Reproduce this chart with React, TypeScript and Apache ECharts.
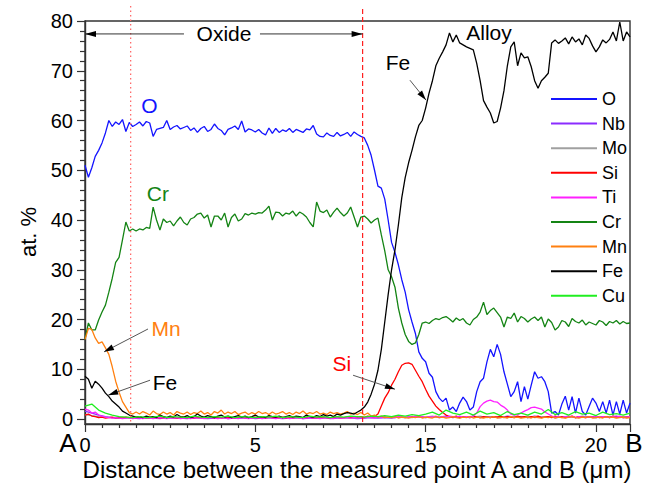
import React, { useEffect, useRef } from "react";
import * as echarts from "echarts";

// sampling step along the A-B line (µm in the plotted scale)
const FINE_STEP = 0.1;
const COARSE_STEP = 0.2;

const elements = ["O", "Nb", "Mo", "Si", "Ti", "Cr", "Mn", "Fe", "Cu"];
const elementColors: Record<string, string> = {
  O: "#1414ff",
  Nb: "#8b2cff",
  Mo: "#a0a0a0",
  Si: "#ff0000",
  Ti: "#ff20ff",
  Cr: "#148414",
  Mn: "#ff8010",
  Fe: "#000000",
  Cu: "#20ee20",
};

const oValues = [
  51, 48.6, 50.5, 52.8, 54, 55.5, 57.5, 60, 58.8, 59.7,
  59.2, 60.2, 57.8, 59.6, 58.8, 59.2, 59.7, 58.9, 59.8, 59.5,
  56.8, 58.2, 58.4, 58.6, 60, 58.2, 58.7, 59, 58.3, 58.6,
  58.9, 58, 58.5, 57.6, 58.4, 58.8, 57.8, 58.2, 59.3, 58.4,
  58, 57.1, 58.2, 58.5, 58.9, 58.2, 59.9, 57.7, 58.3, 58.1,
  57.7, 58.2, 57.5, 57.1, 58.5, 57.4, 58.4, 57.6, 58.1, 57.8,
  58.4, 57.6, 58.2, 57.9, 57.6, 58.3, 58.1, 59, 57.3, 56.8,
  56.7, 57.5, 57, 56.8, 57.6, 56.9, 57.2, 57.6, 56.8, 57.7,
  57.2, 56.8, 56.5, 55, 53, 50, 46.8, 46.4, 44.2, 40,
  35.5, 33.5, 31, 28, 25.5, 22, 19.5, 17.2, 13.5, 12.2,
  11.5, 9.2, 8.4, 5.5, 4.2, 3.5, 4.2, 1.8, 2.4, 1.5,
  3.2, 4.4, 3.5, 1.8, 2.4, 5.5, 7.5, 8.2, 11.5, 14,
  12.5, 15, 13, 9.5, 7, 4.5, 5.5, 7.5, 3.5, 6.5,
  4, 6.8, 9.5, 8.2, 8.5, 7.5, 5.5, 1.2, 1.5, 0.8,
  3, 4.6, 1.8, 4.5, 1.2, 4.2, 1.5, 0.8, 2.5, 4.2,
  3.2, 1.5, 3.5, 1.2, 3.8, 0.8, 3.5, 1, 3.8, 1.2,
  3.2,
];

const crValues = [
  16, 19.3, 17.9, 17.9, 19.9, 21.5, 22.9, 25.5, 28.3, 31.5,
  32.5, 36, 39.6, 37.8, 38.2, 37.8, 38.2, 38, 38.5, 38.3,
  42.6, 40, 38, 40.2, 39.5, 39.8, 38.8, 39.8, 40.6, 39.5,
  39, 40.2, 40.5, 41.2, 41.4, 40.4, 41, 38.6, 40.8, 40.8,
  40, 41.4, 38.6, 40.5, 41.2, 39.8, 40.2, 41.3, 41, 41.4,
  41.2, 41.5, 41.4, 42, 42.8, 40, 41.6, 41.5, 40.8, 41.4,
  41.2, 41.8, 40.8, 41.6, 41.2, 40.6, 39.5, 38.6, 43.6, 41.8,
  41.5, 42, 40.6, 41.6, 42.4, 41.5, 40.8, 41.4, 42.6, 40.6,
  38.6, 40.6, 40.8, 40.2, 39.4, 40, 40.4, 37, 33.8, 30,
  28.6, 26.5, 22.3, 19.3, 17, 15.6, 15, 15.3, 17, 19.3,
  19.5, 19.2, 19.8, 20.2, 20, 20.4, 20.6, 20.1, 19.5, 20.3,
  19.8, 20.2, 19.3, 18.9, 20, 20.5, 21.5, 23.5, 21, 21.8,
  22.3, 21.4, 20.5, 18.5, 20.5, 20.2, 21.3, 19.5, 20.6, 20.2,
  19.5, 20.1, 20.5, 19.8, 20.5, 18.5, 20.1, 19.4, 17.9, 18.5,
  19.8, 19.5, 18.6, 20.2, 19.6, 19.3, 19.9, 18.9, 19.5, 19.2,
  18.9, 19.8, 19.5, 18.8, 19.6, 19.3, 19.8, 19.1, 19.6, 19.2,
  19.3,
];

const feValues = [
  8.6, 8, 6.2, 7.6, 7, 6.2, 5.2, 4.5, 3.6, 3,
  2.4, 1.6, 1.2, 0.8, 0.6, 0.4, 0.5, 0.3, 0.6, 0.4,
  0.5, 0.3, 0.8, 0.5, 0.3, 0.6, 0.4, 0.9, 0.5, 0.4,
  0.7, 0.3, 0.5, 1, 0.6, 0.4, 0.7, 0.5, 0.3, 0.6,
  0.8, 0.4, 0.6, 0.3, 0.5, 0.7, 0.4, 0.6, 0.3, 0.5,
  0.8, 0.4, 0.5, 0.3, 0.7, 0.5, 0.4, 0.6, 0.3, 0.5,
  0.7, 0.4, 0.6, 0.5, 0.3, 0.8, 0.5, 0.4, 0.7, 0.5,
  0.9, 0.6, 0.8, 0.5, 1, 0.8, 1.1, 1.3, 1.2, 1,
  1.4, 1.8, 2.4, 3.4, 5, 7, 9.8, 14, 19.5, 25,
  30, 34, 39, 44.5, 48.5, 51.5, 54, 56.7, 59, 60,
  62.5, 65.5, 68, 71, 72.5, 73.8, 75.2, 77.6, 75.8, 77.2,
  75.6, 75.2, 74.8, 74.5, 74.2, 71.5, 68, 64, 62.7, 61.5,
  59.5, 59.8, 62.5, 66, 71, 74.8, 75.8, 71, 73.6, 72.6,
  72.8, 70.8, 68, 66.5, 68, 68.7, 69.5, 75.6, 76.2, 75.5,
  76, 76.6, 75.4, 76.8, 75.8, 76.4, 75.2, 77.2, 76.5, 75,
  73.8, 74.8, 76.2, 75.6, 76.3, 77.8, 76, 79.8, 76, 77.8,
  76.8,
];

const mnValues = [
  16, 18.2, 18, 16.3, 15.2, 15.5, 14.3, 13, 10.5, 7.6,
  5.4, 3.5, 2.4, 1.3, 1, 1.4, 1, 1.5, 1.2, 0.8,
  1.6, 1.1, 0.9, 1.4, 1, 1.3, 0.8, 1.5, 1.2, 1,
  1.4, 0.9, 1.3, 1.1, 1.6, 1, 1.3, 0.8, 1.5, 1.2,
  1.8, 1, 1.4, 1.1, 1.5, 0.9, 1.2, 1.4, 0.9, 1.3,
  1, 1.5, 1.1, 1.3, 0.9, 1.4, 1, 1.2, 1.5, 1,
  1.3, 0.9, 1.4, 1.1, 1.6, 1, 1.3, 1.1, 1.5, 1,
  1.2, 0.9, 1.4, 1.1, 1.3, 1, 1.2, 1.5, 1, 1.2,
  0.9, 1.3, 0.8, 1.2, 0.6, 0.8, 0.4, 0.6, 0.3, 0.4,
  0.3, 0.5, 0.2, 0.4, 0.3, 0.2, 0.4, 0.3, 0.5, 0.2,
  0.4, 0.3, 0.2, 0.5, 0.3, 0.4, 0.2, 0.3, 0.5, 0.3,
  0.2, 0.4, 0.3, 0.5, 0.2, 0.4, 0.3, 0.2, 0.4, 0.3,
  0.5, 0.2, 0.3, 0.4, 0.2, 0.5, 0.3, 0.4, 0.2, 0.3,
  0.4, 0.2, 0.5, 0.3, 0.2, 0.4, 0.3, 0.5, 0.2, 0.4,
  0.3, 0.2, 0.4, 0.5, 0.3, 0.2, 0.4, 0.3, 0.5, 0.2,
  0.3, 0.4, 0.2, 0.5, 0.3, 0.4, 0.2, 0.3, 0.4, 0.2,
  0.3,
];

const siValues = [
  0.8, 1, 0.6, 0.5, 0.3, 0.4, 0.2, 0.3, 0.4, 0.2,
  0.3, 0.2, 0.4, 0.3, 0.2, 0.3, 0.4, 0.2, 0.3, 0.2,
  0.4, 0.3, 0.2, 0.3, 0.2, 0.4, 0.3, 0.2, 0.3, 0.4,
  0.2, 0.3, 0.2, 0.4, 0.3, 0.2, 0.3, 0.4, 0.2, 0.3,
  0.2, 0.4, 0.3, 0.2, 0.3, 0.2, 0.4, 0.3, 0.2, 0.3,
  0.4, 0.2, 0.3, 0.2, 0.4, 0.3, 0.2, 0.3, 0.4, 0.2,
  0.3, 0.2, 0.4, 0.3, 0.2, 0.3, 0.4, 0.2, 0.3, 0.2,
  0.4, 0.3, 0.2, 0.3, 0.4, 0.2, 0.3, 0.4, 0.3, 0.5,
  0.4, 0.5, 0.3, 0.6, 0.4, 0.5, 1, 2.6, 4.2, 5.3,
  6.8, 8, 9.5, 10.8, 11.2, 11.3, 11, 9.8, 8.6, 7.5,
  6, 4.6, 3.6, 2.6, 1.9, 1.3, 0.8, 0.5, 0.4, 0.6,
  0.3, 0.5, 0.4, 0.3, 0.6, 0.4, 0.3, 0.5, 0.4, 0.3,
  0.5, 0.4, 0.6, 0.3, 0.5, 0.4, 0.3, 0.6, 0.4, 0.5,
  0.3, 0.5, 0.4, 0.6, 0.3, 0.4, 0.5, 0.3, 0.6, 0.4,
  0.5, 0.3, 0.4, 0.6, 0.3, 0.5, 0.4, 0.3, 0.5, 0.4,
  0.6, 0.3, 0.4, 0.5, 0.3, 0.6, 0.4, 0.5, 0.3, 0.4,
  0.5,
];

const tiValues = [
  2, 1.8, 1.2, 1.4, 0.8, 0.6, 0.4, 0.3, 0.2, 0.3,
  0.2, 0.1, 0.2, 0.3, 0.1, 0.2, 0.2, 0.1, 0.3, 0.2,
  0.1, 0.2, 0.3, 0.2, 0.1, 0.2, 0.2, 0.3, 0.1, 0.2,
  0.2, 0.1, 0.3, 0.2, 0.2, 0.1, 0.2, 0.3, 0.2, 0.1,
  0.2, 0.3, 0.1, 0.2, 0.2, 0.1, 0.3, 0.2, 0.1, 0.2,
  0.3, 0.2, 0.1, 0.2, 0.3, 0.2, 0.1, 0.2, 0.2, 0.3,
  0.1, 0.2, 0.3, 0.2, 0.1, 0.2, 0.3, 0.2, 0.2, 0.1,
  0.2, 0.3, 0.2, 0.1, 0.3, 0.2, 0.2, 0.3, 0.2, 0.3,
  0.2, 0.3, 0.2, 0.4, 0.3, 0.2, 0.4, 0.3, 0.5, 0.3,
  0.4, 0.3, 0.5, 0.4, 0.3, 0.5, 0.4, 0.6, 0.4, 0.5,
  0.3, 0.5, 0.4, 0.6, 0.3, 0.5, 0.4, 0.6, 0.5, 0.4,
  0.6, 0.4, 0.5, 0.3, 0.6, 1.2, 2.5, 3.2, 3.6, 3.8,
  3.5, 3.4, 2.8, 2.4, 1.8, 1, 0.8, 0.9, 1.2, 1.6,
  1.9, 2.3, 2.4, 2.2, 2, 1.4, 1, 0.6, 0.4, 0.5,
  0.3, 0.5, 0.4, 0.6, 0.3, 0.5, 0.4, 0.3, 0.5, 0.4,
  0.6, 0.3, 0.5, 0.4, 0.3, 0.5, 0.4, 0.6, 0.3, 0.4,
  0.5,
];

const nbValues = [
  1.6, 1.2, 0.8, 0.5, 0.3, 0.2, 0.3, 0.2, 0.1, 0.3,
  0.2, 0.1, 0.3, 0.2, 0.2, 0.1, 0.3, 0.2, 0.1, 0.2,
  0.3, 0.1, 0.2, 0.2, 0.3, 0.1, 0.2, 0.3, 0.2, 0.1,
  0.2, 0.3, 0.1, 0.2, 0.2, 0.3, 0.1, 0.2, 0.3, 0.2,
  0.1, 0.2, 0.3, 0.2, 0.3, 0.2, 0.4, 0.3, 0.5, 0.4,
  0.3, 0.5, 0.4, 0.6, 0.3, 0.5, 0.4, 0.6, 0.3, 0.5,
  0.4, 0.3, 0.6, 0.4, 0.5, 0.3, 0.6, 0.4, 0.5, 0.3,
  0.4, 0.6, 0.3, 0.5, 0.4, 0.3, 0.5, 0.4, 0.6, 0.3,
  0.4,
];

const moValues = [
  0.9, 0.7, 0.5, 0.4, 0.3, 0.4, 0.3, 0.2, 0.4, 0.3,
  0.2, 0.3, 0.4, 0.2, 0.3, 0.4, 0.3, 0.2, 0.3, 0.4,
  0.3, 0.2, 0.4, 0.3, 0.2, 0.3, 0.4, 0.3, 0.2, 0.3,
  0.4, 0.2, 0.3, 0.4, 0.3, 0.2, 0.3, 0.4, 0.3, 0.2,
  0.3, 0.4, 0.3, 0.5, 0.4, 0.3, 0.5, 0.4, 0.3, 0.5,
  0.4, 0.6, 0.3, 0.5, 0.4, 0.3, 0.5, 0.4, 0.6, 0.3,
  0.5, 0.4, 0.3, 0.5, 0.4, 0.6, 0.3, 0.4, 0.5, 0.3,
  0.4, 0.5, 0.3, 0.6, 0.4, 0.3, 0.5, 0.4, 0.3, 0.5,
  0.4,
];

const cuValues = [
  2.6, 3, 1.8, 1.2, 0.8, 0.5, 0.4, 0.3, 0.5, 0.3,
  0.4, 0.6, 0.3, 0.5, 0.4, 0.3, 0.6, 0.4, 0.3, 0.5,
  0.4, 0.6, 0.3, 0.5, 0.4, 0.3, 0.5, 0.4, 0.6, 0.3,
  0.5, 0.4, 0.3, 0.6, 0.4, 0.5, 0.3, 0.5, 0.4, 0.6,
  0.5, 0.4, 0.6, 0.5, 0.7, 0.5, 0.8, 0.6, 0.9, 0.7,
  1, 1.4, 0.8, 1.8, 1.2, 0.9, 1.4, 0.8, 1.6, 1,
  1.3, 0.7, 1.5, 0.9, 1.2, 0.8, 1.4, 1, 1.9, 0.9,
  1.3, 0.8, 1.5, 1, 1.2, 0.7, 1.4, 0.9, 1.1, 0.8,
  1.2,
];

const seriesValues: Record<string, { values: number[]; step: number }> = {
  O: { values: oValues, step: FINE_STEP },
  Nb: { values: nbValues, step: COARSE_STEP },
  Mo: { values: moValues, step: COARSE_STEP },
  Si: { values: siValues, step: FINE_STEP },
  Ti: { values: tiValues, step: FINE_STEP },
  Cr: { values: crValues, step: FINE_STEP },
  Mn: { values: mnValues, step: FINE_STEP },
  Fe: { values: feValues, step: FINE_STEP },
  Cu: { values: cuValues, step: COARSE_STEP },
};

// axis ticks / labels
const xTickLabels = ["0", "5", "15", "20"];
const yMajorTicks = [0, 10, 20, 30, 40, 50, 60, 70, 80];
const yMinorTicks = [
  2, 4, 6, 8, 12, 14, 16, 18, 22, 24, 26, 28, 32, 34, 36, 38, 42, 44, 46, 48,
  52, 54, 56, 58, 62, 64, 66, 68, 72, 74, 76, 78,
];

// annotation anchors, in data units
const innerBoundaryX = 1.34;
const oxideEndX = 8.15;
const boundaryTopY = 83;
const oxideArrowY = 77.4;
const oxideTextX = 4.08;
const alloyTextPos = [11.86, 77.6];

const FONT = '"Liberation Sans", Arial, sans-serif';

export default function App() {
  const ref = useRef<HTMLDivElement>(null);

  useEffect(() => {
    if (!ref.current) return;
    const chart = echarts.init(ref.current, undefined, { renderer: "svg" });

    const series = elements.map((name) => {
      const { values, step } = seriesValues[name];
      return {
        name,
        type: "line",
        data: values.map((v, i) => [Math.round(i * step * 100) / 100, v]),
        showSymbol: false,
        symbol: "none",
        lineStyle: { width: 1.3, color: elementColors[name] },
        itemStyle: { color: elementColors[name] },
        emphasis: { disabled: true },
        silent: true,
      };
    });

    chart.setOption({
      animation: false,
      grid: {
        left: 85,
        right: 16,
        top: 21,
        bottom: 62,
        show: true,
        borderColor: "#333",
        borderWidth: 1.4,
      },
      legend: {
        orient: "vertical",
        left: 546,
        top: 85,
        itemWidth: 46,
        itemHeight: 2,
        itemGap: 6.6,
        icon: "rect",
        data: elements,
        textStyle: { fontSize: 18, lineHeight: 18, color: "#000", fontFamily: FONT },
      },
      xAxis: {
        type: "value",
        min: 0,
        max: 16,
        interval: 5,
        splitLine: { show: false },
        axisLine: { onZero: false, lineStyle: { color: "#333", width: 1.4 } },
        axisTick: { inside: false, length: 8, lineStyle: { color: "#333", width: 1.2 } },
        minorTick: { show: true, splitNumber: 10, length: 4, lineStyle: { color: "#333", width: 1.2 } },
        minorSplitLine: { show: false },
        axisLabel: {
          margin: 11,
          fontSize: 20,
          color: "#000",
          fontFamily: FONT,
          showMaxLabel: false,
          formatter: (v: number) =>
            Math.abs(v % 5) < 1e-6 ? xTickLabels[Math.round(v / 5)] ?? "" : "",
        },
      },
      yAxis: [
        {
          type: "value",
          min: -1,
          max: 80,
          splitLine: { show: false },
          axisLine: { show: true, onZero: false, lineStyle: { color: "#333", width: 1.4 } },
          axisTick: {
            show: true,
            inside: false,
            length: 8,
            customValues: yMajorTicks,
            lineStyle: { color: "#333", width: 1.2 },
          },
          axisLabel: {
            margin: 12,
            fontSize: 20,
            color: "#000",
            fontFamily: FONT,
            customValues: yMajorTicks,
          },
        },
        {
          type: "value",
          min: -1,
          max: 80,
          position: "left",
          splitLine: { show: false },
          axisLine: { show: false },
          axisLabel: { show: false },
          axisTick: {
            show: true,
            inside: false,
            length: 5,
            customValues: yMinorTicks,
            lineStyle: { color: "#333", width: 1.2 },
          },
        },
      ],
      series,
    });

    const px = (x: number, y: number) =>
      chart.convertToPixel({ seriesIndex: 0 }, [x, y]) as number[];

    const textEl = (
      text: string,
      p: number[],
      color: string,
      size: number,
      extra: any = {}
    ) => ({
      type: "text",
      x: p[0],
      y: p[1],
      silent: true,
      z: 100,
      ...extra,
      style: {
        text,
        fill: color,
        font: `${size}px ${FONT}`,
        align: "center",
        verticalAlign: "middle",
        textAlign: "center",
        textVerticalAlign: "middle",
      },
    });

    const head = (tip: number[], from: number[], len = 10, half = 3) => {
      const dx = tip[0] - from[0];
      const dy = tip[1] - from[1];
      const d = Math.hypot(dx, dy) || 1;
      const ux = dx / d;
      const uy = dy / d;
      const bx = tip[0] - ux * len;
      const by = tip[1] - uy * len;
      return {
        type: "polygon",
        silent: true,
        z: 100,
        shape: {
          points: [
            [tip[0], tip[1]],
            [bx - uy * half, by + ux * half],
            [bx + uy * half, by - ux * half],
          ],
        },
        style: { fill: "#000" },
      };
    };

    const arrow = (from: number[], to: number[]) => [
      {
        type: "line",
        silent: true,
        z: 99,
        shape: { x1: from[0], y1: from[1], x2: to[0], y2: to[1] },
        style: { stroke: "#555", lineWidth: 1 },
      },
      head(to, from),
    ];

    // vertical boundaries
    const dotTop = px(innerBoundaryX, boundaryTopY);
    const dotBottom = px(innerBoundaryX, -1);
    const dashTop = px(oxideEndX, boundaryTopY - 0.6);
    const dashBottom = px(oxideEndX, -1);

    // oxide double arrow
    const oxL = px(0, oxideArrowY);
    const oxR = px(oxideEndX, oxideArrowY);
    const oxText = px(oxideTextX, oxideArrowY);

    const labels = [
      { text: "O", pos: [1.89, 63.1], color: "#1414ff" },
      { text: "Cr", pos: [2.14, 45.4], color: "#148414" },
      { text: "Mn", pos: [2.38, 18.1], color: "#ff8010" },
      { text: "Fe", pos: [2.35, 7.4], color: "#000" },
      { text: "Si", pos: [7.54, 11.1], color: "#ff0000" },
      { text: "Fe", pos: [9.19, 71.6], color: "#000" },
    ];
    const arrows = [
      { from: [1.85, 18.1], to: [0.56, 13.5] },
      { from: [1.91, 7.8], to: [0.68, 4.8] },
      { from: [7.87, 8.8], to: [9.1, 6.0] },
      { from: [9.54, 68.1], to: [10.01, 64.1] },
    ];

    const graphic: any[] = [
      {
        type: "line",
        silent: true,
        z: 98,
        shape: { x1: dotTop[0], y1: dotTop[1], x2: dotBottom[0], y2: dotBottom[1] },
        style: { stroke: "#ff6a6a", lineWidth: 1.3, lineDash: [1.5, 3] },
      },
      {
        type: "line",
        silent: true,
        z: 98,
        shape: { x1: dashTop[0], y1: dashTop[1], x2: dashBottom[0], y2: dashBottom[1] },
        style: { stroke: "#ff2020", lineWidth: 1.2, lineDash: [5, 3] },
      },
      {
        type: "line",
        silent: true,
        z: 99,
        shape: { x1: oxL[0], y1: oxL[1], x2: oxText[0] - 40, y2: oxL[1] },
        style: { stroke: "#333", lineWidth: 1 },
      },
      {
        type: "line",
        silent: true,
        z: 99,
        shape: { x1: oxText[0] + 36, y1: oxR[1], x2: oxR[0], y2: oxR[1] },
        style: { stroke: "#333", lineWidth: 1 },
      },
      head(oxL, [oxL[0] + 20, oxL[1]], 11, 3),
      head(oxR, [oxR[0] - 20, oxR[1]], 11, 3),
      textEl("Oxide", oxText, "#000", 21),
      textEl("Alloy", px(alloyTextPos[0], alloyTextPos[1]), "#000", 21),
      ...labels.map((l) => textEl(l.text, px(l.pos[0], l.pos[1]), l.color, 21)),
      ...arrows.flatMap((a) => arrow(px(a.from[0], a.from[1]), px(a.to[0], a.to[1]))),
      textEl("A", [68, 443], "#000", 26),
      textEl("B", [634, 443], "#000", 26),
      textEl("Distance between the measured point A and B (\u03bcm)", [357, 469], "#000", 24),
      textEl("at. %", [28, 232], "#000", 22, { rotation: Math.PI / 2 }),
    ];

    chart.setOption({ graphic });

    return () => {
      chart.dispose();
    };
  }, []);

  return (
    <div
      ref={ref}
      style={{ position: "fixed", left: 0, top: 0, width: 646, height: 486, background: "#fff" }}
    />
  );
}
